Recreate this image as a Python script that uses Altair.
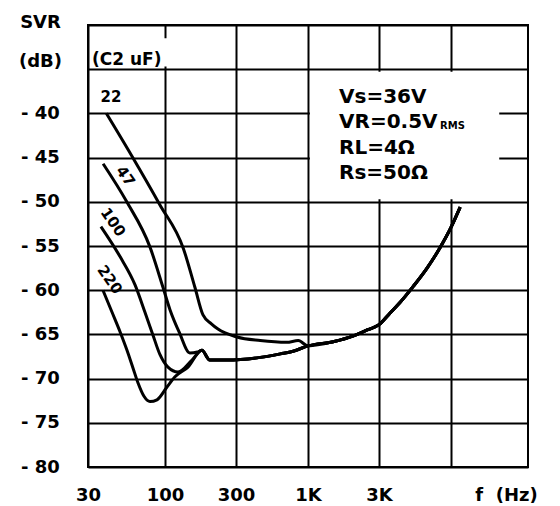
import altair as alt
import pandas as pd

# ---- data ----
c22_f = [40, 59, 92, 133, 159, 180, 205, 227, 305, 450, 700, 850, 1000]
c22_db = [-40.0, -44.7, -50.3, -55.3, -59.7, -62.8, -63.8, -64.4, -65.3, -65.7, -65.9, -65.7, -66.3]

c47_f = [38, 55, 79, 97, 108, 125, 147, 165, 177]
c47_db = [-45.7, -50.0, -55.1, -59.7, -62.2, -64.8, -67.1, -67.0, -66.8]

c100_f = [36.7, 49.5, 62.6, 73.1, 82.9, 92.5, 104.7, 122.3, 151.9, 177]
c100_db = [-52.8, -56.2, -59.4, -62.5, -65.1, -67.3, -68.7, -69.25, -67.9, -66.8]

c220_f = [37.9, 43.7, 49.5, 55.2, 60.6, 65.6, 72.0, 79.1, 88.2, 103.1, 116.7, 142.7, 177]
c220_db = [-60.0, -62.5, -64.7, -66.8, -68.8, -70.5, -72.0, -72.6, -72.4, -70.95, -69.8, -68.7, -66.8]

low_f = [200, 260, 450, 630, 780, 1000]
low_db = [-67.9, -67.9, -67.6, -67.2, -66.9, -66.3]

tail_f = [1500, 2000, 2500, 3000, 3600, 4260, 5300, 6700, 8320, 10000, 11400]
tail_db = [-65.8, -65.2, -64.5, -63.9, -62.6, -61.4, -59.6, -57.5, -55.2, -52.9, -50.6]

x_ticks = [30, 100, 300, 1000, 3000, 10000]
y_ticks = [-80, -75, -70, -65, -60, -55, -50, -45, -40, -35, -30]

curve_labels = ["22", "47", "100", "220"]
curve_label_f = [43, 54, 44.4, 42.2]
curve_label_db = [-38.1, -47.1, -52.3, -58.8]

legend_lines = ["Vs=36V", "VR=0.5V", "RL=4\u03a9", "Rs=50\u03a9"]
legend_db = [-38.2, -40.95, -43.9, -46.7]
legend_f = 1616

# white annotation boxes (data units)
box_x1 = [31, 1030]
box_x2 = [140, 19900]
box_y1 = [-31.5, -35.3]
box_y2 = [-34.7, -49.7]

# ---- tables ----
rows = []
def add(name, fs, ds):
    for f, d in zip(fs, ds):
        rows.append({"curve": name, "f": f, "db": d})

add("22", c22_f + tail_f, c22_db + tail_db)
add("47", c47_f + low_f + tail_f, c47_db + low_db + tail_db)
add("100", c100_f + low_f + tail_f, c100_db + low_db + tail_db)
add("220", c220_f + low_f + tail_f, c220_db + low_db + tail_db)
df = pd.DataFrame(rows)

boxes = pd.DataFrame({"f": box_x1, "f2": box_x2, "db": box_y1, "db2": box_y2})
labels = pd.DataFrame({"t": curve_labels, "f": curve_label_f, "db": curve_label_db})
legend = pd.DataFrame({"t": legend_lines, "f": [legend_f] * 4, "db": legend_db})

FONT = "DejaVu Sans"

xscale = alt.Scale(type="log", domain=[30, 100, 300, 1000, 3000, 10000, 30000],
                   range=[0, 77, 148, 220, 291, 363, 440], nice=False)
yscale = alt.Scale(domain=[-80, -30], nice=False, zero=False)

xaxis = alt.Axis(
    values=x_ticks,
    labelExpr="datum.value == 10000 ? '' : (datum.value >= 1000 ? (datum.value / 1000) + 'K' : '' + datum.value)",
    grid=True, gridColor="black", gridWidth=2, gridOpacity=1,
    domain=False, ticks=False, tickSize=0,
    labelFont=FONT, labelFontWeight="bold", labelFontSize=18, labelColor="black",
    labelPadding=19, labelBaseline="top", labelFlush=False, labelOverlap=False,
    title="f\u00a0\u00a0(Hz)", titleX=418, titleY=19, titleBaseline="top", titleAlign="center",
    titleFont=FONT, titleFontSize=18, titleFontWeight="bold", titleColor="black",
)
yaxis = alt.Axis(
    values=y_ticks,
    labelExpr="datum.value == -30 ? 'SVR' : (datum.value == -35 ? '(dB)' : '- ' + abs(datum.value))",
    grid=True, gridColor="black", gridWidth=2, gridOpacity=1,
    domain=False, ticks=False, tickSize=0,
    labelFont=FONT, labelFontWeight="bold", labelFontSize=18, labelColor="black",
    labelPadding=48, labelAlign="center", labelBaseline="middle", labelFlush=False, labelOverlap=False,
    labelOffset={"condition": [{"test": "datum.value == -30", "value": -3},
                               {"test": "datum.value == -35", "value": -8}], "value": 0},
    title=None,
)

X = alt.X("f:Q", scale=xscale, axis=xaxis)
Y = alt.Y("db:Q", scale=yscale, axis=yaxis)

lines = alt.Chart(df).mark_line(color="black", strokeWidth=3, interpolate="monotone").encode(
    x=X, y=Y, detail="curve:N", order="f:Q",
)

rects = alt.Chart(boxes).mark_rect(color="white").encode(
    x=X, x2="f2:Q", y=Y, y2="db2:Q",
)

c2_text = alt.Chart(pd.DataFrame({"t": ["(C2 uF)"], "f": [31.9], "db": [-34.0]})).mark_text(
    font=FONT, fontWeight="bold", fontSize=17, align="left", baseline="middle", color="black"
).encode(x=X, y=Y, text="t:N")

lab0 = alt.Chart(labels.iloc[:1]).mark_text(
    font=FONT, fontWeight="bold", fontSize=15, align="center", baseline="middle", color="black"
).encode(x=X, y=Y, text="t:N")

lab_rot = alt.Chart(labels.iloc[1:]).mark_text(
    font=FONT, fontWeight="bold", fontSize=15, align="center", baseline="middle", color="black", angle=55
).encode(x=X, y=Y, text="t:N")

leg = alt.Chart(legend).mark_text(
    font=FONT, fontWeight="bold", fontSize=20, align="left", baseline="middle", color="black"
).encode(x=X, y=Y, text="t:N")

rms = alt.Chart(pd.DataFrame({"t": ["RMS"], "f": [legend_f], "db": [legend_db[1]]})).mark_text(
    font=FONT, fontWeight="bold", fontSize=10, align="left", baseline="middle", color="black", dx=101, dy=4
).encode(x=X, y=Y, text="t:N")

chart = alt.layer(lines, rects, c2_text, lab0, lab_rot, leg, rms).properties(
    width=440, height=442,
    autosize=alt.AutoSizeParams(type="none"),
    padding={"left": 80, "top": 17, "right": 24, "bottom": 37},
    background="white",
).configure_view(stroke="black", strokeWidth=2)

chart.save("out.html", embed_options={"renderer": "svg", "actions": False})
